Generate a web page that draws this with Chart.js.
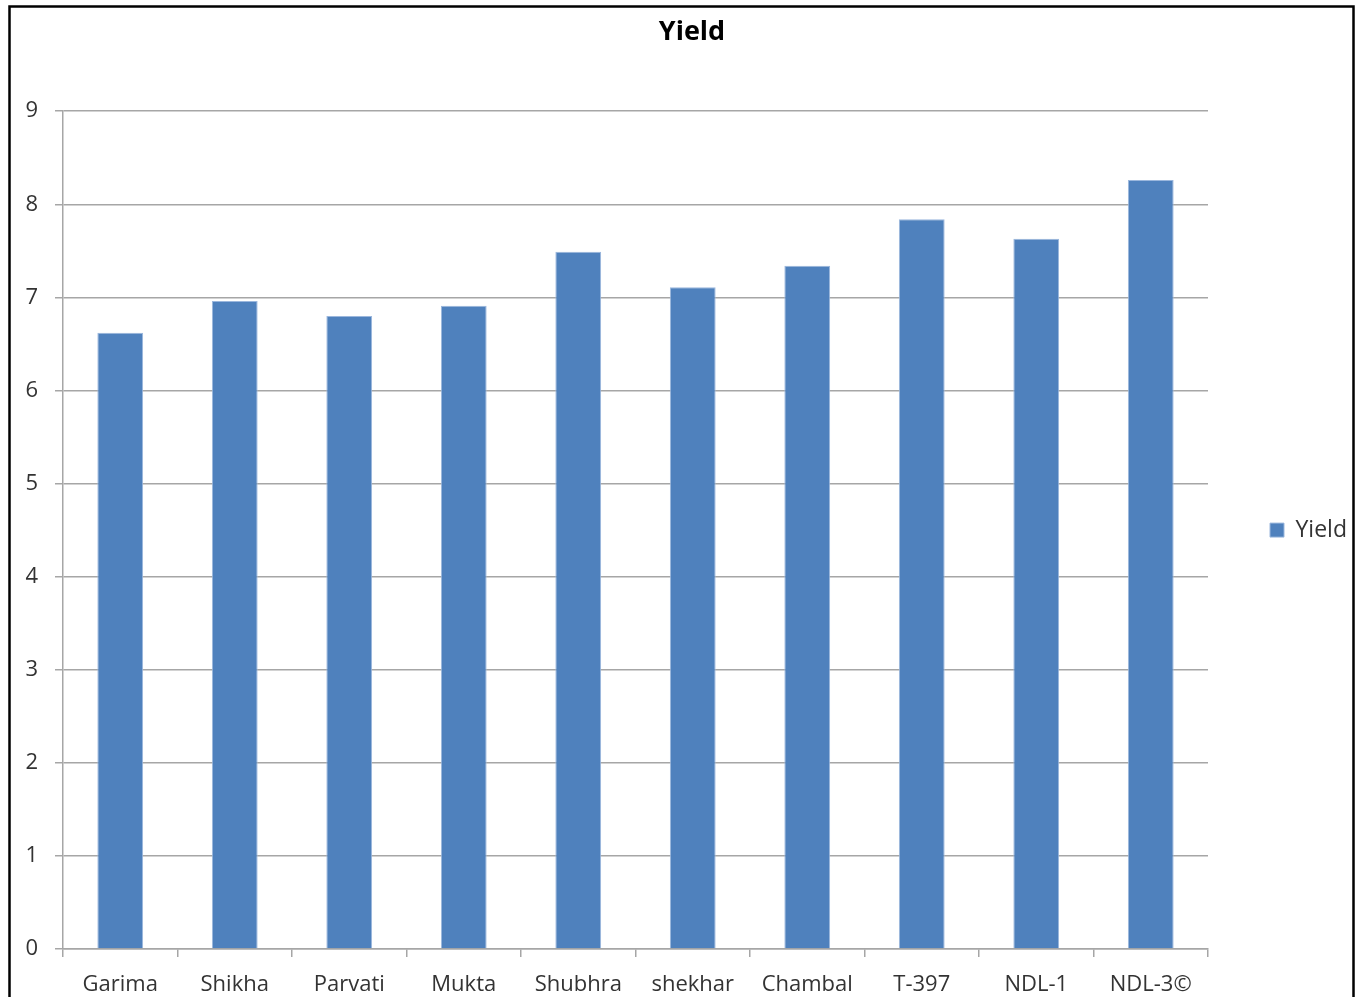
<!DOCTYPE html>
<html>
<head>
<meta charset="utf-8">
<title>Yield</title>
<script src="https://cdn.jsdelivr.net/npm/chart.js@4"></script>
<style>
  html, body { margin: 0; padding: 0; background: #fff; }
  #wrap { width: 1361px; height: 997px; }
</style>
</head>
<body>
<div id="wrap"><canvas id="chartYield" width="1361" height="997"></canvas></div>
<script>
// Data
const varieties = ["Garima", "Shikha", "Parvati", "Mukta", "Shubhra", "shekhar", "Chambal", "T-397", "NDL-1", "NDL-3\u00A9"];
const yieldValues = [6.62, 6.96, 6.80, 6.91, 7.49, 7.11, 7.34, 7.84, 7.63, 8.26];
const yTicks = [0, 1, 2, 3, 4, 5, 6, 7, 8, 9];

const FONT = "'Open Sans', 'Noto Sans', sans-serif";
const LEGEND_W = 153;

// Keep the legend column a fixed width so the plot area lines up
const fixLegendWidth = {
  id: "fixLegendWidth",
  beforeLayout(chart) {
    const lg = chart.legend;
    if (lg && !lg._fixed) {
      const fit = lg.fit;
      lg.fit = function () {
        fit.call(this);
        this.width = LEGEND_W;
      };
      lg._fixed = true;
    }
  },
};

// Black frame around the picture
const frame = {
  id: "frame",
  beforeDraw(chart) {
    const ctx = chart.ctx;
    ctx.save();
    ctx.fillStyle = "#fff";
    ctx.fillRect(0, 0, chart.width, chart.height);
    ctx.restore();
  },
  afterDraw(chart) {
    const ctx = chart.ctx;
    ctx.save();
    ctx.strokeStyle = "#000";
    ctx.lineWidth = 2.5;
    ctx.strokeRect(9.5, 6.5, 1344, 1100);
    ctx.restore();
  },
};

document.addEventListener("DOMContentLoaded", function () {
  const ctx = document.getElementById("chartYield");
  new Chart(ctx, {
    type: "bar",
    data: {
      labels: varieties,
      datasets: [
        {
          label: "Yield",
          data: yieldValues,
          backgroundColor: "#4f81bd",
          borderColor: "#9bb7dd",
          borderWidth: 1,
          barPercentage: 0.4,
          categoryPercentage: 1.0,
        },
      ],
    },
    options: {
      responsive: false,
      animation: false,
      layout: {
        padding: { left: 23, right: 0, top: 0, bottom: 0 },
      },
      plugins: {
        title: {
          display: true,
          text: "Yield",
          color: "#000",
          font: { family: FONT, size: 27, weight: "bold" },
          padding: { top: 16, bottom: 62.8 },
        },
        legend: {
          position: "right",
          fullSize: false,
          labels: {
            color: "#333",
            font: { family: FONT, size: 23 },
            boxWidth: 14,
            boxHeight: 14,
            padding: 62,
          },
        },
        tooltip: { enabled: false },
      },
      scales: {
        x: {
          grid: {
            display: true,
            drawOnChartArea: false,
            offset: true,
            tickLength: 8,
            color: "#a6a6a6",
            lineWidth: 1.5,
          },
          border: { color: "#a6a6a6", width: 1.5 },
          ticks: {
            color: "#333",
            font: { family: FONT, size: 22 },
            padding: 15,
            maxRotation: 0,
            autoSkip: false,
          },
          afterFit: function (scale) {
            scale.height = 48;
          },
        },
        y: {
          min: 0,
          max: 9,
          afterBuildTicks: function (scale) {
            scale.ticks = yTicks.map(function (v) { return { value: v }; });
          },
          grid: {
            color: "#a6a6a6",
            lineWidth: 1.5,
            tickLength: 8,
          },
          border: { color: "#a6a6a6", width: 1.5 },
          ticks: {
            color: "#333",
            font: { family: FONT, size: 22 },
            padding: 17,
          },
          afterFit: function (scale) {
            scale.width = 40;
          },
        },
      },
    },
    plugins: [fixLegendWidth, frame],
  });
});
</script>
</body>
</html>
